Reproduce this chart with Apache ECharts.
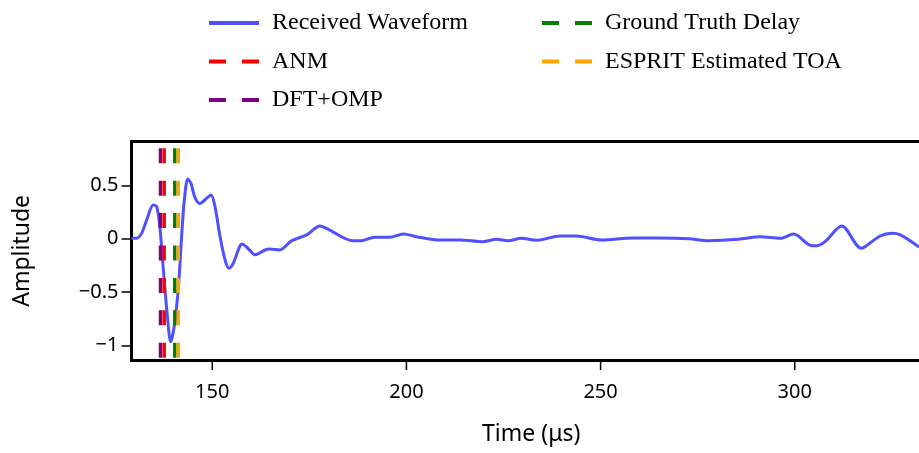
<!DOCTYPE html>
<html>
<head>
<meta charset="utf-8">
<script src="https://cdn.jsdelivr.net/npm/echarts@6/dist/echarts.min.js"></script>
<style>
html, body { margin: 0; padding: 0; background: #fff; }
#main { width: 919px; height: 453px; }
</style>
</head>
<body>
<div id="main"></div>
<script>
// received waveform (time in us, amplitude)
var time = [129.2, 130.5, 131.8, 133.1, 134.8, 135.7, 136.5, 137.4, 138.3, 139.3,
  140.2, 141.3, 142.1, 142.8, 143.7, 144.5, 145.5, 146.8, 148.6, 149.7,
  150.7, 152, 153.3, 154.3, 155.4, 157.7, 158.9, 161.1, 163.6, 164.7,
  167.4, 170.4, 174.3, 177.7, 179.4, 186.3, 188, 191.9, 195.7, 199.2,
  202.6, 208.6, 213.7, 219.7, 223.2, 226.2, 229.6, 233.5, 239.5, 243.8,
  250.2, 258.3, 265.2, 272.8, 277.8, 285.5, 291.1, 296.3, 299.7, 304.4,
  305.7, 307.8, 312.1, 317.1, 318.1, 322, 325, 327.2, 332];
var amplitude = [0.004, 0.004, 0.05, 0.175, 0.316, 0.3, 0.11, -0.29, -0.67, -0.965,
  -0.82, -0.45, 0.02, 0.36, 0.56, 0.52, 0.39, 0.33, 0.38, 0.41,
  0.30, 0.02, -0.2, -0.277, -0.23, -0.05, -0.08, -0.15, -0.106, -0.097,
  -0.106, -0.02, 0.035, 0.119, 0.097, -0.02, -0.02, 0.013, 0.013, 0.044,
  0.019, -0.012, -0.012, -0.028, -0.006, -0.02, 0.004, -0.015, 0.025, 0.025,
  -0.012, 0.007, 0.007, 0, -0.019, -0.006, 0.019, 0.004, 0.044, -0.066,
  -0.066, -0.028, 0.119, -0.09, -0.075, 0.025, 0.05, 0.035, -0.078];

// vertical delay markers (drawing order: purple under red, green under orange)
var markerNames = ['DFT+OMP', 'ANM', 'Ground Truth Delay', 'ESPRIT Estimated TOA'];
var markerDelays = [136.67, 137.62, 140.35, 141.25];
var markerColors = ['#800080', '#ff0000', '#008000', '#ffa500'];

var xTicks = [150, 200, 250, 300];
var yTicks = [-1, -0.5, 0, 0.5];
var xRange = [129.2, 332];
var yRange = [-1.137, 0.909];

var chart = echarts.init(document.getElementById('main'));

function fmt(v) {
  return v < 0 ? '\u2212' + (-v) : String(v);
}

var series = [{
  name: 'Received Waveform',
  type: 'line',
  data: time.map(function (t, i) { return [t, amplitude[i]]; }),
  symbol: 'none',
  smooth: 0.3,
  lineStyle: { color: '#5050ff', width: 3 },
  itemStyle: { color: '#5050ff' },
  z: 2
}];

markerNames.forEach(function (n, i) {
  series.push({
    name: n,
    type: 'line',
    data: [[markerDelays[i], yRange[1]], [markerDelays[i], yRange[0]]],
    symbol: 'none',
    silent: true,
    lineStyle: { color: markerColors[i], width: 3.5, type: [15, 17.4], dashOffset: 25.8 },
    itemStyle: { color: markerColors[i] },
    z: 3 + i
  });
});

// x ticks under the bottom spine (axis ticks don't show there in this build)
series.push({
  type: 'custom',
  silent: true,
  clip: false,
  data: xTicks.map(function (v) { return [v]; }),
  encode: { x: 0 },
  renderItem: function (params, api) {
    var p = api.coord([api.value(0), yRange[0]]);
    return {
      type: 'line',
      shape: { x1: p[0], y1: p[1] + 1.5, x2: p[0], y2: p[1] + 10 },
      style: { stroke: '#000', lineWidth: 1.5 }
    };
  },
  z: 10
});

// legend handle: line only, symbol hidden
function legendItem(name, color, solid) {
  return {
    name: name,
    lineStyle: { color: color, width: 4, type: solid ? 'solid' : [17, 16], dashOffset: 0 },
    itemStyle: { color: 'rgba(0,0,0,0)', borderWidth: 0, opacity: 0 }
  };
}

var legendText = {
  fontFamily: 'Liberation Serif',
  fontSize: 24,
  color: '#000',
  lineHeight: 24,
  padding: [0, 0, 0, 8]
};

var spine = { color: '#000', width: 3, cap: 'square' };

chart.setOption({
  animation: false,
  backgroundColor: '#fff',
  legend: [{
    left: 202, top: 6, orient: 'vertical',
    itemWidth: 50, itemHeight: 14, itemGap: 14.5,
    selectedMode: false,
    textStyle: legendText,
    data: [legendItem('Received Waveform', '#5050ff', true),
      legendItem('ANM', '#ff0000'),
      legendItem('DFT+OMP', '#800080')]
  }, {
    left: 535, top: 6, orient: 'vertical',
    itemWidth: 50, itemHeight: 14, itemGap: 14.5,
    selectedMode: false,
    textStyle: legendText,
    data: [legendItem('Ground Truth Delay', '#008000'),
      legendItem('ESPRIT Estimated TOA', '#ffa500')]
  }],
  grid: {
    left: 131.5, top: 141.7, right: 0, height: 218.3,
    outerBoundsMode: 'none'
  },
  xAxis: [{
    type: 'value',
    position: 'bottom',
    min: xRange[0], max: xRange[1],
    name: 'Time (\u03bcs)',
    nameLocation: 'middle',
    nameGap: 63,
    nameTextStyle: { fontFamily: 'Noto Sans', fontSize: 23, color: '#000', padding: [0, 0, 0, 12] },
    axisLine: { show: true, onZero: false, lineStyle: spine },
    axisTick: { show: false },
    axisLabel: { fontFamily: 'Noto Sans', fontSize: 20, color: '#000', margin: 22, customValues: xTicks, formatter: fmt },
    splitLine: { show: false }
  }, {
    type: 'value',
    position: 'top',
    min: xRange[0], max: xRange[1],
    axisLine: { show: true, onZero: false, lineStyle: spine },
    axisTick: { show: false },
    axisLabel: { show: false },
    splitLine: { show: false }
  }],
  yAxis: {
    type: 'value',
    position: 'left',
    min: yRange[0], max: yRange[1],
    name: 'Amplitude',
    nameLocation: 'middle',
    nameGap: 98,
    nameRotate: 90,
    nameTextStyle: { fontFamily: 'Noto Sans', fontSize: 23, color: '#000' },
    axisLine: { show: true, onZero: false, lineStyle: spine },
    axisTick: { show: true, length: 10, lineStyle: { color: '#000', width: 1.5 }, customValues: yTicks },
    axisLabel: { fontFamily: 'Noto Sans', fontSize: 20, color: '#000', margin: 13, customValues: yTicks, formatter: fmt },
    splitLine: { show: false }
  },
  series: series
});
</script>
</body>
</html>
